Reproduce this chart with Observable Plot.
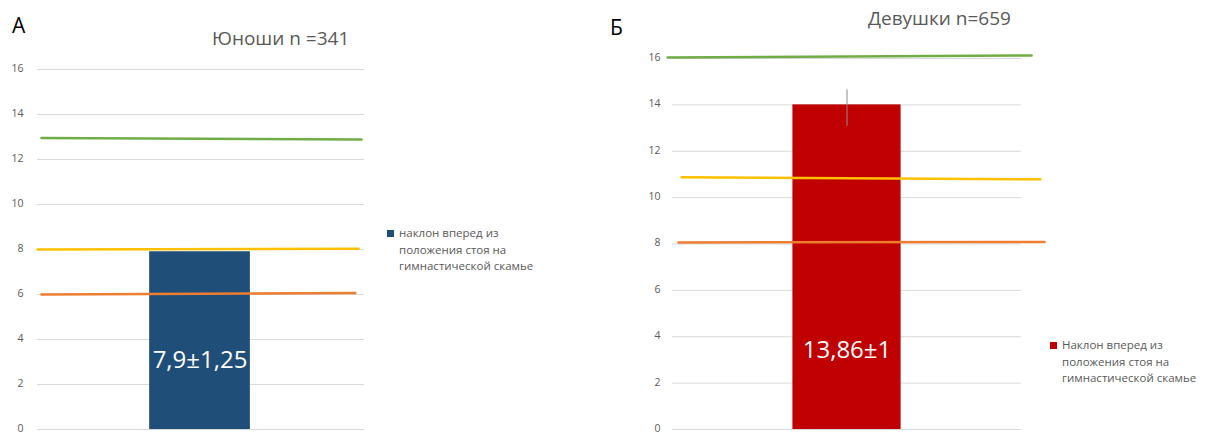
<!DOCTYPE html>
<html>
<head>
<meta charset="utf-8">
<script src="https://cdn.jsdelivr.net/npm/d3@7"></script>
<script src="https://cdn.jsdelivr.net/npm/@observablehq/plot@0.6"></script>
<style>
  html, body { margin: 0; padding: 0; background: #fff; }
  #wrap { position: relative; width: 1205px; height: 434px; overflow: hidden; font-family: "Open Sans", "Noto Sans", sans-serif; }
  #wrap > .panel { position: absolute; top: 0; }
  #overlay { position: absolute; left: 0; top: 0; pointer-events: none; }
</style>
</head>
<body>
<div id="wrap"></div>
<script>
// ---------- data ----------
const panelLetters = ["А", "Б"];
const panelTitles = ["Юноши n =341", "Девушки n=659"];
const legendLinesA = ["наклон вперед из", "положения стоя на", "гимнастической скамье"];
const legendLinesB = ["Наклон вперед из", "положения стоя на", "гимнастической скамье"];
const yTicks = [0, 2, 4, 6, 8, 10, 12, 14, 16];

// bar values (as drawn) and their labels
const barValues = [7.9, 14];
const barLabels = ["7,9±1,25", "13,86±1"];

// error bar (panel Б): low / high
const errLowB = 13.07;
const errHighB = 14.65;

// reference level lines: start/end positions across the panel (0..10) and values
const greenA_x = [0.12, 9.91];  const greenA_y = [12.96, 12.89];
const yellowA_x = [0.0, 9.82];  const yellowA_y = [8.0, 8.03];
const orangeA_x = [0.12, 9.72]; const orangeA_y = [6.0, 6.07];

const greenB_x = [-0.14, 10.29]; const greenB_y = [16.04, 16.13];
const yellowB_x = [0.26, 10.54]; const yellowB_y = [10.88, 10.79];
const orangeB_x = [0.17, 10.66]; const orangeB_y = [8.07, 8.09];

// ---------- helpers ----------
const pts = (xs, ys) => xs.map((x, i) => ({x, y: ys[i]}));
const FONT = '"Open Sans", "Noto Sans", sans-serif';
const GREEN = "#70AD47", YELLOW = "#FFC000", ORANGE = "#ED7D31";

function panel({width, marginLeft, marginRight, marginTop, marginBottom, tickPadding,
                bar, label, labelY, barX1, barX2, barColor, lines, err}) {
  const marks = [
    Plot.gridY(yTicks, {stroke: "#d9d9d9", strokeOpacity: 1, strokeWidth: 1}),
    Plot.axisY(yTicks, {tickSize: 0, tickPadding, fill: "#595959", fontSize: 10.5, dy: -1, label: null, tickFormat: d => String(d)}),
    Plot.rectY([bar], {x1: barX1, x2: barX2, y1: 0, y2: d => d, fill: barColor}),
  ];
  if (err) marks.push(Plot.ruleX([err], {x: 5, y1: d => d[0], y2: d => d[1], stroke: "#8c8c8c", strokeWidth: 1}));
  marks.push(Plot.text([label], {x: (barX1 + barX2) / 2, y: labelY, text: d => d, fill: "#fff", fontSize: 24, fontFamily: FONT, textAnchor: "middle"}));
  for (const l of lines) {
    marks.push(Plot.line(l.data, {x: "x", y: "y", stroke: l.color, strokeWidth: 2.5}));
  }
  return Plot.plot({
    width, height: 434,
    marginLeft, marginRight, marginTop, marginBottom,
    x: {domain: [0, 10], axis: null},
    y: {domain: [0, 16], axis: null, label: null},
    style: {fontFamily: FONT, fontSize: "11px", background: "transparent", overflow: "visible"},
    marks
  });
}

const wrap = document.getElementById("wrap");

const pA = panel({
  width: 385, marginLeft: 37, marginRight: 21, marginTop: 69, marginBottom: 5, tickPadding: 14,
  bar: barValues[0], label: barLabels[0], labelY: 3.08, barX1: 3.43, barX2: 6.51, barColor: "#1F4E79",
  lines: [
    {data: pts(greenA_x, greenA_y), color: GREEN},
    {data: pts(yellowA_x, yellowA_y), color: YELLOW},
    {data: pts(orangeA_x, orangeA_y), color: ORANGE},
  ]
});
pA.classList.add("panel");
pA.style.left = "0px";
wrap.appendChild(pA);

const pB = panel({
  width: 450, marginLeft: 72, marginRight: 29, marginTop: 58, marginBottom: 5, tickPadding: 12,
  bar: barValues[1], label: barLabels[1], labelY: 3.42, barX1: 3.45, barX2: 6.55, barColor: "#C00000",
  err: [errLowB, errHighB],
  lines: [
    {data: pts(greenB_x, greenB_y), color: GREEN},
    {data: pts(yellowB_x, yellowB_y), color: YELLOW},
    {data: pts(orangeB_x, orangeB_y), color: ORANGE},
  ]
});
pB.classList.add("panel");
pB.style.left = "600px";
wrap.appendChild(pB);

// ---------- titles & legends ----------
const svg = d3.select(wrap).append("svg")
  .attr("id", "overlay").attr("width", 1205).attr("height", 434)
  .style("font-family", FONT);

svg.append("text").attr("x", 12).attr("y", 33).attr("font-size", 21).attr("fill", "#000").text(panelLetters[0]);
svg.append("text").attr("x", 610).attr("y", 35).attr("font-size", 21).attr("fill", "#000").text(panelLetters[1]);
svg.append("text").attr("x", 212).attr("y", 45).attr("font-size", 19).attr("fill", "#595959").text(panelTitles[0]);
svg.append("text").attr("x", 868).attr("y", 25).attr("font-size", 19).attr("fill", "#595959").text(panelTitles[1]);

function legend(x, y, color, lines) {
  svg.append("rect").attr("x", x).attr("y", y - 6).attr("width", 7).attr("height", 7).attr("fill", color);
  lines.forEach((t, i) => {
    svg.append("text").attr("x", x + 12).attr("y", y + 1 + i * 16.5)
      .attr("font-size", 11.5).attr("fill", "#595959").text(t);
  });
}
legend(387, 236, "#1F4E79", legendLinesA);
legend(1050, 348, "#C00000", legendLinesB);
</script>
</body>
</html>
